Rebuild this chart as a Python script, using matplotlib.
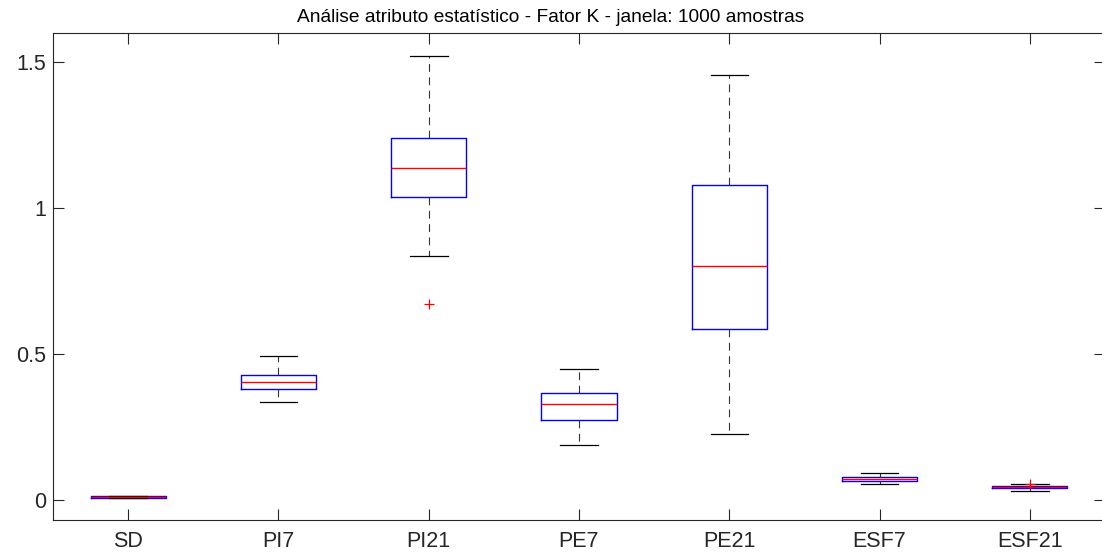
import matplotlib
matplotlib.use("Agg")
import matplotlib.pyplot as plt

# ── data ─────────────────────────────────────────────────────────────────────
labels = ["SD", "PI7", "PI21", "PE7", "PE21", "ESF7", "ESF21"]
whislo = [0.007, 0.336, 0.836, 0.188, 0.226, 0.057, 0.033]
q1     = [0.009, 0.380, 1.038, 0.274, 0.586, 0.064, 0.043]
med    = [0.011, 0.404, 1.137, 0.329, 0.801, 0.071, 0.045]
q3     = [0.013, 0.428, 1.240, 0.366, 1.079, 0.078, 0.047]
whishi = [0.015, 0.493, 1.520, 0.449, 1.455, 0.093, 0.054]
fliers = [[], [], [0.671], [], [], [], [0.057]]

yticks = [0, 0.5, 1, 1.5]
ytick_labels = ["0", "0.5", "1", "1.5"]

TITLE = "Análise atributo estatístico - Fator K - janela: 1000 amostras"
AX_COLOR = "#262626"

plt.rcParams["font.family"] = ["Liberation Sans", "DejaVu Sans"]

fig = plt.figure(figsize=(11.02, 5.54), dpi=100)
W, H = 1102, 554
ax = fig.add_axes([53 / W, (H - 520) / H, (1105 - 53) / W, (520 - 33) / H])

stats = [dict(label=l, whislo=a, q1=b, med=c, q3=d, whishi=e, fliers=f)
         for l, a, b, c, d, e, f in zip(labels, whislo, q1, med, q3, whishi, fliers)]

ax.bxp(stats, positions=range(1, len(labels) + 1), widths=0.5, capwidths=0.25,
       boxprops=dict(color="#0000ff", linewidth=1.0),
       medianprops=dict(color="#ff0000", linewidth=1.0),
       whiskerprops=dict(color="#333333", linewidth=0.8, linestyle=(0, (7, 5))),
       capprops=dict(color="black", linewidth=0.9),
       flierprops=dict(marker="+", markeredgecolor="#ff0000", markersize=7,
                       markeredgewidth=0.9, linestyle="none"))

ax.set_xlim(0.5, 7.5)
ax.set_ylim(-0.068, 1.6)
ax.set_yticks(yticks)
ax.set_yticklabels(ytick_labels)
ax.set_xticks(range(1, len(labels) + 1))
ax.set_xticklabels(labels)

ax.tick_params(direction="in", length=8, width=0.8, colors=AX_COLOR,
               labelsize=15.5, top=True, right=True)
ax.tick_params(axis="y", pad=5)
ax.tick_params(axis="x", pad=8)
for sp in ax.spines.values():
    sp.set_color(AX_COLOR)
    sp.set_linewidth(0.8)

fig.text(0.5, 1 - 18 / H, TITLE, ha="center", va="center", fontsize=13.8,
         color="black")

fig.savefig("out.png", dpi=100, facecolor="white")
